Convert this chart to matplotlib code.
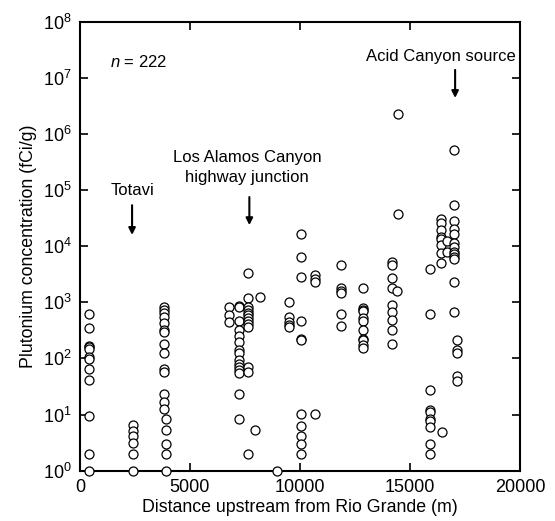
import matplotlib.pyplot as plt
import numpy as np

plt.rcParams['font.family'] = ['Liberation Sans', 'DejaVu Sans']
plt.rcParams['mathtext.fontset'] = 'custom'
plt.rcParams['mathtext.rm'] = 'Liberation Sans'
plt.rcParams['mathtext.it'] = 'Liberation Sans:italic'

# sampling sites: distance upstream (m) and Pu concentrations (fCi/g)
site_dist = [420, 2400, 3830, 3900, 6790, 7240, 7650, 7950, 8180, 8970,
             9510, 10060, 10680, 11860, 12880, 14170, 14420, 14470,
             15900, 16440, 16390, 16700, 16980, 17140]
site_conc = [
    [630, 355, 170, 160, 150, 107, 96, 66, 42, 9.6, 2.0, 1.0],
    [6.4, 5.2, 4.2, 3.1, 2.0, 1.0],
    [830, 740, 645, 550, 425, 320, 298, 182, 125, 66, 57, 23, 16.5, 12.4],
    [8.4, 5.3, 3.0, 2.0, 1.0],
    [810, 590, 450],
    [850, 810, 465, 325, 248, 197, 140, 126, 95, 81, 70, 62, 54, 23, 8.4],
    [3350, 1170, 830, 740, 655, 590, 520, 465, 410, 365, 70, 57, 2.0],
    [5.3],
    [1230],
    [1.0],
    [1020, 550, 450, 390, 365],
    [16500, 6500, 2850, 465, 225, 210, 10.4, 6.2, 4.1, 2.95, 2.0],
    [3050, 2650, 2320, 10.4],
    [4650, 1770, 1600, 1450, 630, 372],
    [1820, 785, 740, 695, 515, 465, 318, 225, 210, 171, 155],
    [5300, 4650, 2760, 1820, 910, 675, 480, 318, 178],
    [1590],
    [2.3e6, 37000],
    [4000, 630, 27.5, 11.9, 11.1, 8.4, 7.8, 6.0, 2.95, 2.0],
    [4.9],
    [30000, 26000, 19700, 14700, 13200, 10400, 7600, 5100],
    [12400, 7900],
    [510000, 54000, 28000, 20600, 16300, 11400, 9700, 7900, 7200, 6500,
     5800, 2300, 660],
    [210, 140, 123, 49, 39.5],
]

notes = ["Totavi", "Los Alamos Canyon\nhighway junction", "Acid Canyon source"]
note_x = [2370, 7700, 17050]

xs = np.concatenate([[d] * len(c) for d, c in zip(site_dist, site_conc)])
ys = np.concatenate(site_conc)

fig = plt.figure(figsize=(5.55, 5.21), dpi=100)
ax = fig.add_axes([0.144, 0.0965, 0.793, 0.862])

ax.scatter(xs, ys, s=42, facecolors='white', edgecolors='black',
           linewidths=0.9, clip_on=False, zorder=5)

ax.set_yscale('log')
ax.set_xlim(0, 20000)
ax.set_ylim(1, 1e8)
ax.set_xticks([0, 5000, 10000, 15000, 20000])
ax.set_yticks([10.0 ** k for k in range(9)])
ax.yaxis.set_minor_locator(plt.NullLocator())
ax.tick_params(direction='in', length=6, width=1.2, top=True, right=True,
               labelsize=13, pad=6)
for s in ax.spines.values():
    s.set_linewidth(1.5)

ax.set_xlabel('Distance upstream from Rio Grande (m)', fontsize=12.8,
              labelpad=2)
ax.set_ylabel('Plutonium concentration (fCi/g)', fontsize=12.8, labelpad=4)

ax.text(1350, 10 ** 7.28, r'$n$ = 222', fontsize=12, va='center')

# labels with downward arrows
text_y = [10 ** 5.0, 10 ** 5.4, 10 ** 7.37]
tail_y = [10 ** 4.73, 10 ** 4.875, 10 ** 7.14]
tip_y = [10 ** 4.2, 10 ** 4.375, 10 ** 6.64]
text_dx = [0, -100, -640]
for t, x, ty, tip, tail, dx in zip(notes, note_x, text_y, tip_y, tail_y, text_dx):
    ax.text(x + dx, ty, t, ha='center', va='center', fontsize=12,
            linespacing=1.45)
    ax.annotate('', xy=(x, tip), xytext=(x, tail),
                arrowprops=dict(arrowstyle='-|>', color='black', lw=1.5,
                                mutation_scale=10, shrinkA=0, shrinkB=0))

fig.savefig('out.png', dpi=100)
